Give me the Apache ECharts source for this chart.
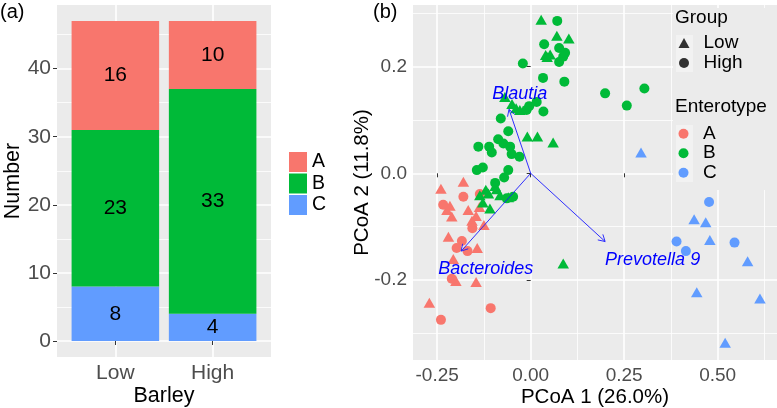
<!DOCTYPE html>
<html><head><meta charset="utf-8">
<script src="https://cdn.jsdelivr.net/npm/echarts@6/dist/echarts.min.js"></script>
<style>html,body{margin:0;padding:0;background:#fff}#c{width:777px;height:408px}</style>
</head><body><div id="c"></div>
<script>
// ---------- Panel (a) data ----------
const barleyGroups = ['Low', 'High'];
const countA = [16, 10];
const countB = [23, 33];
const countC = [8, 4];
const numberTicks = [0, 10, 20, 30, 40];
const numberMinor = [5, 15, 25, 35, 45];

// ---------- Panel (b) data ----------
const A_low = [[-0.240,-0.029],[-0.180,-0.016],[-0.216,-0.061],[-0.211,-0.081],[-0.167,-0.069],[-0.137,-0.063],[-0.157,-0.089],[-0.125,-0.097],[-0.220,-0.119],[-0.143,-0.140],[-0.207,-0.161],[-0.200,-0.202],[-0.146,-0.204],[-0.271,-0.243],[-0.146,-0.080],[-0.224,-0.069]];
const A_high = [[-0.180,-0.044],[-0.136,-0.039],[-0.234,-0.059],[-0.156,-0.103],[-0.184,-0.127],[-0.198,-0.140],[-0.169,-0.146],[-0.211,-0.198],[-0.240,-0.275],[-0.107,-0.253]];
const B_low = [[0.028,0.288],[0.070,0.258],[0.102,0.253],[0.040,0.222],[0.052,0.223],[-0.069,0.143],[-0.039,0.122],[-0.009,0.069],[0.018,0.069],[0.060,0.058],[-0.091,-0.030],[-0.113,-0.038],[-0.136,-0.041],[-0.128,-0.055],[-0.109,-0.066],[-0.060,-0.045],[0.087,-0.169],[-0.050,0.130],[0.044,0.218],[-0.120,-0.031],[-0.082,-0.041],[-0.095,-0.024],[-0.029,0.119]];
const B_high = [[0.071,0.286],[0.036,0.242],[0.076,0.235],[0.087,0.219],[0.076,0.209],[-0.021,0.206],[0.033,0.179],[0.090,0.172],[0.199,0.150],[0.257,0.127],[0.304,0.159],[-0.011,0.119],[-0.004,0.126],[0.016,0.134],[0.034,0.116],[-0.080,0.103],[-0.060,0.079],[-0.087,0.064],[-0.140,0.050],[-0.111,0.050],[-0.073,0.056],[-0.104,0.039],[-0.055,0.050],[-0.051,0.036],[-0.030,0.031],[-0.144,0.006],[-0.128,0.011],[-0.060,0.006],[-0.071,-0.008],[-0.095,-0.018],[-0.047,-0.044],[-0.064,-0.047],[0.092,0.226]];
const C_low = [[0.437,-0.086],[0.468,-0.092],[0.479,-0.125],[0.580,-0.165],[0.444,-0.223],[0.613,-0.235],[0.520,-0.318],[0.295,0.039]];
const C_high = [[0.477,-0.054],[0.545,-0.130],[0.415,-0.146],[0.390,-0.128]];

const arrowNames = ['Blautia', 'Bacteroides', 'Prevotella 9'];
const arrowX = [-0.058, -0.186, 0.199];
const arrowY = [0.120, -0.146, -0.128];
const labelX = [-0.029, -0.120, 0.326];
const labelY = [0.148, -0.180, -0.163];

const pcoaXTicks = [-0.25, 0, 0.25, 0.5];
const pcoaXMinor = [-0.125, 0.125, 0.375, 0.625];
const pcoaYTicks = [-0.2, 0, 0.2];
const pcoaYMinor = [-0.3, -0.1, 0.1, 0.3];

// ---------- styling ----------
const FF = 'Liberation Sans, Arial, Helvetica, sans-serif';
const COL = { A: '#F8766D', B: '#00BA38', C: '#619CFF' };
const PANEL = '#EBEBEB';
const tickStyle = { show: true, length: 4, lineStyle: { color: '#333333', width: 1 } };
const majorLine = { show: true, lineStyle: { color: '#fff', width: 1.6 } };
const minorLine = { show: true, lineStyle: { color: '#fff', width: 0.8 } };

function majorAxis(grid, min, max, ticks, fmt, lblSize, nameSize, extra) {
  return Object.assign({
    type: 'value', gridIndex: grid, min: min, max: max,
    axisLine: { show: false },
    axisTick: Object.assign({ customValues: ticks }, tickStyle),
    axisLabel: { customValues: ticks, formatter: fmt, margin: 6, color: '#4D4D4D', fontSize: lblSize, fontFamily: FF },
    splitLine: majorLine, nameLocation: 'middle', nameMoveOverlap: false,
    nameTextStyle: { color: '#000', fontSize: nameSize, fontFamily: FF }
  }, extra || {});
}
function minorAxis(grid, min, max, ticks) {
  return {
    type: 'value', gridIndex: grid, min: min, max: max,
    axisLine: { show: false },
    axisTick: { show: false, customValues: ticks },
    axisLabel: { show: false, customValues: ticks },
    splitLine: minorLine
  };
}
function hiddenAxis(extra) {
  return Object.assign({
    axisLine: { show: false }, axisTick: { show: false },
    axisLabel: { show: false }, splitLine: { show: false }
  }, extra);
}

const chart = echarts.init(document.getElementById('c'), null, { renderer: 'canvas' });

// Panel (a): discrete positions 1,2 with expansion 0.6 each side (ggplot style)
const aXMin = 0.4, aXMax = 2.6, aYMin = -2.35, aYMax = 49.35;
const aLeft = 57, aGridW = 214;
const pxPerUnit = aGridW / (aXMax - aXMin);
const barGridLeft = aLeft + (0.5 - aXMin) * pxPerUnit;
const barGridW = 2 * pxPerUnit;

const bXMin = -0.3147, bXMax = 0.6586, bYMin = -0.3503, bYMax = 0.3158;

function scatter(name, data, shape) {
  return {
    type: 'scatter', name: name, xAxisIndex: 2, yAxisIndex: 2,
    data: data, symbol: shape,
    symbolSize: shape === 'triangle' ? [11.5, 10] : 10,
    itemStyle: { color: COL[name], opacity: 1 }, z: 3, silent: true
  };
}

const option = {
  animation: false,
  backgroundColor: '#fff',
  grid: [
    { left: aLeft, top: 5, width: aGridW, bottom: 51, show: true, backgroundColor: PANEL, borderWidth: 0, outerBoundsMode: 'none', containLabel: false },
    { left: 413, top: 5, right: 0, bottom: 48, show: true, backgroundColor: PANEL, borderWidth: 0, outerBoundsMode: 'none', containLabel: false },
    { left: barGridLeft, top: 5, width: barGridW, bottom: 51, show: false, outerBoundsMode: 'none', containLabel: false }
  ],
  xAxis: [
    majorAxis(0, aXMin, aXMax, [1, 2], v => barleyGroups[Math.round(v) - 1], 21, 21.5, { name: 'Barley', nameGap: 28 }),
    majorAxis(1, bXMin, bXMax, pcoaXTicks, v => v.toFixed(2), 19, 20.5, { name: 'PCoA 1 (26.0%)', nameGap: 27 }),
    minorAxis(1, bXMin, bXMax, pcoaXMinor),
    hiddenAxis({ type: 'category', gridIndex: 2, data: barleyGroups, boundaryGap: true })
  ],
  yAxis: [
    majorAxis(0, aYMin, aYMax, numberTicks, v => String(v), 21, 21.5, { name: 'Number', nameGap: 33 }),
    minorAxis(0, aYMin, aYMax, numberMinor),
    majorAxis(1, bYMin, bYMax, pcoaYTicks, v => v.toFixed(1), 19, 20.5, { name: 'PCoA 2 (11.8%)', nameGap: 40 }),
    minorAxis(1, bYMin, bYMax, pcoaYMinor),
    hiddenAxis({ type: 'value', gridIndex: 2, min: aYMin, max: aYMax })
  ],
  legend: [
    { left: 289, top: 152, orient: 'vertical', padding: 0, itemWidth: 18, itemHeight: 20, itemGap: 1.5, icon: 'rect',
      selectedMode: false, data: ['A', 'B', 'C'],
      textStyle: { fontSize: 19.5, color: '#000', fontFamily: FF, lineHeight: 20 } },
    { left: 678.5, top: 33, orient: 'vertical', padding: 0, itemWidth: 11, itemHeight: 10, itemGap: 0,
      selectedMode: false, data: [{ name: 'Low', icon: 'triangle' }, { name: 'High', icon: 'circle' }],
      textStyle: { fontSize: 19, color: '#000', fontFamily: FF, lineHeight: 20, padding: [0, 0, 0, 9] }, z: 6 },
    { left: 678.5, top: 124, orient: 'vertical', padding: 0, itemWidth: 11, itemHeight: 10, itemGap: 0,
      selectedMode: false, data: [{ name: 'A', icon: 'circle' }, { name: 'B', icon: 'circle' }, { name: 'C', icon: 'circle' }],
      textStyle: { fontSize: 19, color: '#000', fontFamily: FF, lineHeight: 19.5, padding: [0, 0, 0, 9] }, z: 6 }
  ],
  graphic: {
    z: 4,
    elements: [
      { type: 'text', x: 0, y: 12, z: 4, style: { text: '(a)', fontSize: 20, fontFamily: FF, fill: '#000', verticalAlign: 'middle' } },
      { type: 'text', x: 373, y: 12, z: 4, style: { text: '(b)', fontSize: 20, fontFamily: FF, fill: '#000', verticalAlign: 'middle' } },
      { type: 'rect', z: 4, shape: { x: 673, y: 8, width: 104, height: 182 }, style: { fill: PANEL } },
      { type: 'rect', z: 4, shape: { x: 676, y: 35, width: 17, height: 37 }, style: { fill: '#F2F2F2' } },
      { type: 'rect', z: 4, shape: { x: 676, y: 125, width: 17, height: 57 }, style: { fill: '#F2F2F2' } },
      { type: 'text', x: 675, y: 18, z: 5, style: { text: 'Group', fontSize: 19, fontFamily: FF, fill: '#000', verticalAlign: 'middle' } },
      { type: 'text', x: 675, y: 107, z: 5, style: { text: 'Enterotype', fontSize: 19, fontFamily: FF, fill: '#000', verticalAlign: 'middle' } }
    ]
  },
  series: [
    // stacked bars (bottom to top: C, B, A)
    ...[['C', countC], ['B', countB], ['A', countA]].map(([nm, vals]) => ({
      type: 'bar', name: nm, stack: 'ent', xAxisIndex: 3, yAxisIndex: 4,
      barWidth: '90%', data: vals,
      itemStyle: { color: COL[nm] },
      label: { show: true, position: 'inside', color: '#000', fontSize: 21, fontFamily: FF },
      silent: true
    })),
    scatter('A', A_low, 'triangle'),
    scatter('A', A_high, 'circle'),
    scatter('B', B_low, 'triangle'),
    scatter('B', B_high, 'circle'),
    scatter('C', C_low, 'triangle'),
    scatter('C', C_high, 'circle'),
    { type: 'scatter', name: 'Low', xAxisIndex: 2, yAxisIndex: 2, data: [], symbol: 'triangle', itemStyle: { color: '#000' } },
    { type: 'scatter', name: 'High', xAxisIndex: 2, yAxisIndex: 2, data: [], symbol: 'circle', itemStyle: { color: '#000' } },
    {
      type: 'custom', name: 'arrows', xAxisIndex: 2, yAxisIndex: 2, z: 5, silent: true,
      data: arrowNames.map((n, i) => [arrowX[i], arrowY[i], labelX[i], labelY[i]]),
      encode: { x: 0, y: 1 },
      renderItem: function (params, api) {
        const i = params.dataIndex;
        const o = api.coord([0, 0]);
        const t = api.coord([api.value(0), api.value(1)]);
        const l = api.coord([api.value(2), api.value(3)]);
        const ang = Math.atan2(t[1] - o[1], t[0] - o[0]);
        const len = 7.5, spread = Math.PI / 6;
        const p1 = [t[0] - len * Math.cos(ang - spread), t[1] - len * Math.sin(ang - spread)];
        const p2 = [t[0] - len * Math.cos(ang + spread), t[1] - len * Math.sin(ang + spread)];
        return {
          type: 'group', children: [
            { type: 'line', shape: { x1: o[0], y1: o[1], x2: t[0], y2: t[1] }, style: { stroke: '#1A1AFF', lineWidth: 0.9 } },
            { type: 'polyline', shape: { points: [p1, t, p2] }, style: { stroke: '#1A1AFF', lineWidth: 0.9, fill: null } },
            { type: 'text', x: l[0], y: l[1], style: { text: arrowNames[i], fill: '#0000FF', fontSize: 18, fontStyle: 'italic', fontFamily: FF, align: 'center', verticalAlign: 'middle' } }
          ]
        };
      }
    }
  ]
};
chart.setOption(option);
</script>
</body></html>
